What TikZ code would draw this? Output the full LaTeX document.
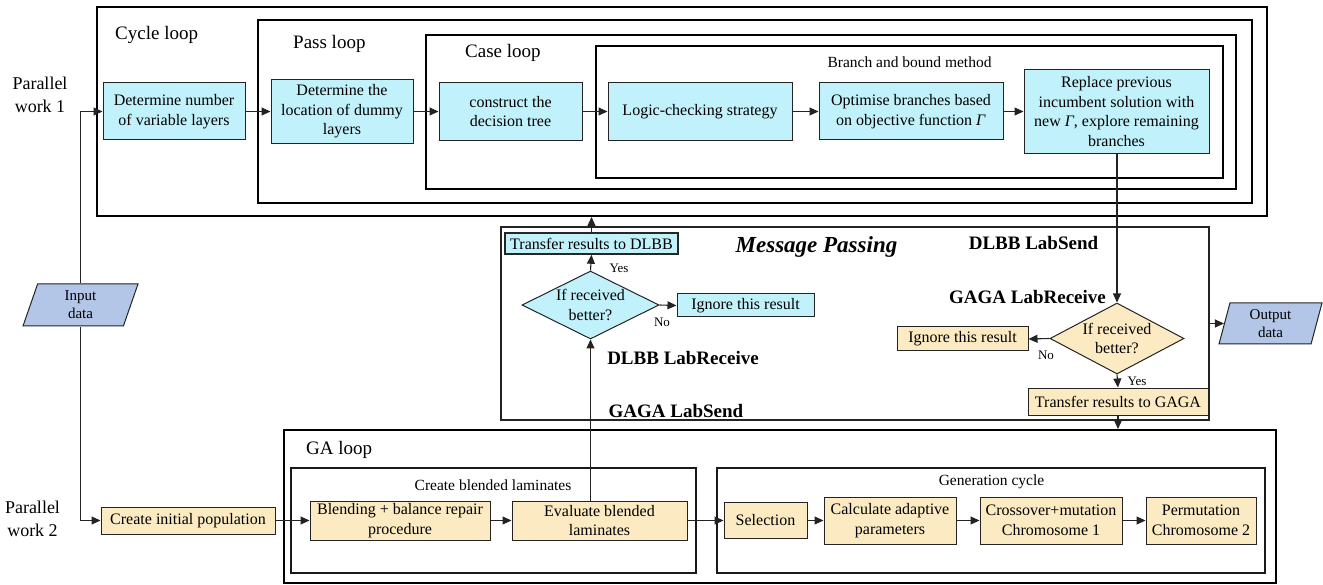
\documentclass[tikz,border=0pt]{standalone}
\usepackage{fontspec}
\setmainfont{Liberation Serif}
\usetikzlibrary{arrows.meta,shapes.geometric}

\definecolor{nodeblue}{RGB}{193,241,251}
\definecolor{nodeyellow}{RGB}{252,235,194}
\definecolor{iodata}{RGB}{180,198,231}
\definecolor{edgegray}{RGB}{35,35,35}

\newcommand\bodyfnt{\fontsize{16}{19.5}\selectfont}
\newcommand\loopfnt{\fontsize{19}{22}\selectfont}
\newcommand\tagfnt{\fontsize{19}{22}\selectfont\bfseries}
\newcommand\yesnofnt{\fontsize{13}{15}\selectfont}

\tikzset{
  loopbox/.style={draw=black, line width=2pt, inner sep=0pt},
  subbox/.style={draw=black!90, line width=1.6pt, inner sep=0pt},
  proc/.style={draw=edgegray, line width=1pt, align=center, inner sep=0pt, font=\bodyfnt},
  blueproc/.style={proc, fill=nodeblue},
  yellowproc/.style={proc, fill=nodeyellow},
  decision/.style={diamond, draw=edgegray, line width=1pt, inner sep=0pt},
  iobox/.style={trapezium, trapezium stretches body, draw=edgegray, line width=1pt,
    fill=iodata, inner sep=1pt, align=center, font=\fontsize{15}{18}\selectfont},
  flow/.style={draw=edgegray, line width=1.1pt, -{Triangle[length=9pt,width=8pt]}},
  looplabel/.style={anchor=west, inner sep=0pt, font=\loopfnt},
  boxlabel/.style={inner sep=0pt, font=\fontsize{15.5}{18}\selectfont},
  taglabel/.style={inner sep=0pt, font=\tagfnt},
  yesno/.style={inner sep=0pt, font=\yesnofnt}
}

\begin{document}
\begin{tikzpicture}[x=1pt,y=-1pt]
\useasboundingbox (0,0) rectangle (1323,585);

% ---------- nested loops of the DLBB search ----------
\node[loopbox, minimum width=1170, minimum height=209] (cycle) at (682,111.5) {};
\node[loopbox, minimum width=994, minimum height=183] (pass) at (755,111.5) {};
\node[loopbox, minimum width=810, minimum height=154] (case) at (831,112) {};
\node[loopbox, minimum width=627, minimum height=132] (bnb) at (909.5,112) {};

\node[looplabel] (cyclelab) at (115,35) {Cycle loop};
\node[looplabel] (passlab) at (293,44) {Pass loop};
\node[looplabel] (caselab) at (465,53) {Case loop};
\node[boxlabel] (bnblab) at (909.5,62) {Branch and bound method};

\node[blueproc, minimum width=142, minimum height=57] (n1) at (174,111.5)
  {Determine number\\of variable layers};
\node[blueproc, minimum width=142, minimum height=64] (n2) at (342,111.5)
  {Determine the\\location of dummy\\layers};
\node[blueproc, minimum width=143, minimum height=58] (n3) at (510.5,111.5)
  {construct the\\decision tree};
\node[blueproc, minimum width=184, minimum height=58] (n4) at (700,111.5)
  {Logic-checking strategy};
\node[blueproc, minimum width=184, minimum height=57] (n5) at (911,111.5)
  {Optimise branches based\\on objective function \textit{Γ}};
\node[blueproc, minimum width=185, minimum height=84] (n6) at (1116.5,111.5)
  {Replace previous\\incumbent solution with\\new \textit{Γ}, explore remaining\\branches};

% ---------- side labels and data ----------
\node[align=center, inner sep=0pt, font=\fontsize{18}{23}\selectfont] (pw1) at (40,94.5) {Parallel\\work 1};
\node[align=center, inner sep=0pt, font=\fontsize{18}{23}\selectfont] (pw2) at (32.5,518.5) {Parallel\\work 2};

\node[iobox, trapezium left angle=64, trapezium right angle=116,
      minimum width=115, minimum height=42] (inp) at (80.5,305) {Input\\data};
\node[iobox, trapezium left angle=70, trapezium right angle=110,
      minimum width=103, minimum height=41] (out) at (1270.5,323.5) {Output\\data};

% ---------- message passing ----------
\node[draw=edgegray, line width=1.5pt, inner sep=0pt, minimum width=708, minimum height=193] (msg) at (855,323.5) {};
\node[inner sep=0pt, font=\fontsize{23}{26}\selectfont\bfseries\itshape] (msglab) at (816.5,247) {Message Passing};
\node[taglabel] (dsend) at (1033.5,243) {DLBB LabSend};
\node[taglabel] (grecv) at (1027.5,297) {GAGA LabReceive};
\node[taglabel] (drecv) at (683,358) {DLBB LabReceive};
\node[taglabel] (gsend) at (676,411) {GAGA LabSend};

\node[blueproc, draw=black!85, line width=1.6pt, minimum width=173, minimum height=21] (tdlbb) at (591.5,243.5)
  {Transfer results to DLBB};
\node[decision, fill=nodeblue, minimum width=137, minimum height=68] (d1) at (590.5,305) {};
\node[align=center, inner sep=0pt, font=\bodyfnt] (d1t) at (d1.center) {If received\\better?};
\node[blueproc, minimum width=137, minimum height=23] (ign1) at (745.5,305.5) {Ignore this result};
\node[yesno] (yes1) at (619,268) {Yes};
\node[yesno] (no1) at (662,322) {No};

\node[decision, fill=nodeyellow, minimum width=134, minimum height=71] (d2) at (1117,338.5) {};
\node[align=center, inner sep=0pt, font=\bodyfnt] (d2t) at (d2.center) {If received\\better?};
\node[yellowproc, minimum width=131, minimum height=24] (ign2) at (962.5,339) {Ignore this result};
\node[yellowproc, minimum width=180, minimum height=27] (tgaga) at (1118,401.5) {Transfer results to GAGA};
\node[yesno] (yes2) at (1137,381) {Yes};
\node[yesno] (no2) at (1046,355) {No};

% ---------- GA loop ----------
\node[loopbox, minimum width=992, minimum height=153] (ga) at (780,506.5) {};
\node[subbox, minimum width=405, minimum height=105] (blendbox) at (493.5,520.5) {};
\node[subbox, minimum width=548, minimum height=105] (genbox) at (991,520.5) {};
\node[looplabel] (galab) at (306,450) {GA loop};
\node[boxlabel] (blendlab) at (493,485) {Create blended laminates};
\node[boxlabel] (genlab) at (991.5,482) {Generation cycle};

\node[yellowproc, minimum width=174, minimum height=27] (cip) at (188,520.5) {Create initial population};
\node[yellowproc, minimum width=180, minimum height=39] (blend) at (400,520.5) {Blending + balance repair\\procedure};
\node[yellowproc, minimum width=175, minimum height=39] (eval) at (599.5,520.5) {Evaluate blended\\laminates};
\node[yellowproc, minimum width=83, minimum height=36] (sel) at (765.5,520.5) {Selection};
\node[yellowproc, minimum width=132, minimum height=47] (calc) at (890,520.5) {Calculate adaptive\\parameters};
\node[yellowproc, minimum width=142, minimum height=47] (cross) at (1051,520.5) {Crossover+mutation\\Chromosome 1};
\node[yellowproc, minimum width=110, minimum height=47] (perm) at (1201,520.5) {Permutation\\Chromosome 2};

% ---------- connectors ----------
\draw[flow] (inp.north) |- (n1.west);
\draw[flow] (inp.south) |- (cip.west);
\draw[flow] (n1) -- (n2);
\draw[flow] (n2) -- (n3);
\draw[flow] (n3) -- (n4);
\draw[flow] (n4) -- (n5);
\draw[flow] (n5) -- (n6);

\draw[flow] (n6.south -| d2.north) -- (d2.north);
\draw[flow] (d2.west) -- (ign2.east);
\draw[flow] (d2.south) -- (tgaga.north);
\draw[flow] (tgaga.south) -- (tgaga.south |- ga.north);
\draw[flow] (out.west -| msg.east) -- (out.west);

\draw[flow] (d1.south |- eval.north) -- (d1.south);
\draw[flow] (d1.east) -- (ign1.west);
\draw[flow] (d1.north) -- (tdlbb.south);
\draw[flow] (tdlbb.north) -- (tdlbb.north |- cycle.south);

\draw[flow] (cip) -- (blend);
\draw[flow] (blend) -- (eval);
\draw[flow] (eval) -- (sel);
\draw[flow] (sel) -- (calc);
\draw[flow] (calc) -- (cross);
\draw[flow] (cross) -- (perm);
\end{tikzpicture}
\end{document}
